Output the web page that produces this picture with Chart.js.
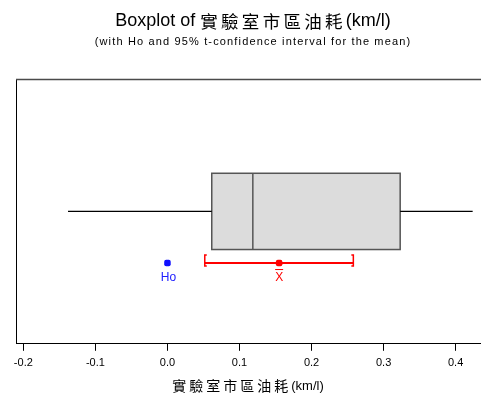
<!DOCTYPE html>
<html>
<head>
<meta charset="utf-8">
<script src="https://cdn.jsdelivr.net/npm/chart.js@4.4.1/dist/chart.umd.min.js"></script>
<style>
  html, body { margin: 0; padding: 0; background: #fff; overflow: hidden; }
  #wrap { width: 481px; height: 396px; overflow: hidden; }
</style>
</head>
<body>
<div id="wrap"><canvas id="c" width="500" height="396"></canvas></div>
<script>
// Five-number summary: min, Q1, median, Q3, max
const fiveNumber = [-0.138, 0.0615, 0.1185, 0.323, 0.4236];
// 95% t-confidence interval for the mean: lower, mean, upper
const meanInterval = [0.0518, 0.155, 0.258];
// Hypothesized mean
const hypothesized = [0];
// Axis tick values and labels
const tickValues = [-0.2, -0.1, 0, 0.1, 0.2, 0.3, 0.4];
const tickLabels = ['-0.2', '-0.1', '0.0', '0.1', '0.2', '0.3', '0.4'];

const titleParts = ['Boxplot of ', '實驗室市區油耗', '(km/l)'];
const subtitleText = '(with Ho and 95% t-confidence interval for the mean)';
const axisTitleParts = ['實驗室市區油耗', '(km/l)'];

const FONT = '"Liberation Sans", Arial, "Noto Sans CJK TC", sans-serif';
const CJK = '"Noto Sans CJK TC", "Liberation Sans", sans-serif';

// vertical layout inside the plot frame (axis units 0..1)
const ROW_BOX = 0.5, BOX_HALF = 0.144, ROW_CI = 0.305;

const [wLo, q1, med, q3, wHi] = fiveNumber;
const [ciLo, mean, ciHi] = meanInterval;

// draw a row of text segments, each with its own font and letter spacing, centred on cx
function drawSegments(ctx, segs, cx, cy) {
  const widths = segs.map(s => {
    ctx.font = s.font;
    ctx.letterSpacing = s.spacing + 'px';
    return ctx.measureText(s.text).width;
  });
  const total = widths.reduce((a, b) => a + b, 0);
  let x = cx - total / 2;
  ctx.textAlign = 'left';
  ctx.textBaseline = 'middle';
  segs.forEach((s, i) => {
    ctx.font = s.font;
    ctx.letterSpacing = s.spacing + 'px';
    ctx.fillText(s.text, x, cy);
    x += widths[i];
  });
  ctx.letterSpacing = '0px';
}

const boxPlugin = {
  id: 'boxDraw',
  beforeDatasetsDraw(chart) {
    const { ctx, chartArea: a, scales: { x, y } } = chart;
    ctx.save();
    // plot frame (right edge falls outside the visible area)
    ctx.strokeStyle = '#000';
    ctx.lineWidth = 1;
    ctx.beginPath();
    ctx.moveTo(a.left + 0.5, a.top);
    ctx.lineTo(a.left + 0.5, a.bottom);
    ctx.stroke();
    ctx.strokeStyle = '#4a4a4a';
    ctx.lineWidth = 1.5;
    ctx.beginPath();
    ctx.moveTo(a.left, a.top + 0.5);
    ctx.lineTo(a.right, a.top + 0.5);
    ctx.stroke();

    // box
    const xl = x.getPixelForValue(q1), xr = x.getPixelForValue(q3);
    const yt = y.getPixelForValue(ROW_BOX + BOX_HALF), yb = y.getPixelForValue(ROW_BOX - BOX_HALF);
    ctx.fillStyle = '#dcdcdc';
    ctx.fillRect(xl, yt, xr - xl, yb - yt);
    ctx.strokeStyle = '#555';
    ctx.lineWidth = 1.5;
    ctx.strokeRect(xl, yt, xr - xl, yb - yt);
    const xm = x.getPixelForValue(med);
    ctx.beginPath();
    ctx.moveTo(xm, yt);
    ctx.lineTo(xm, yb);
    ctx.stroke();
    ctx.restore();
  },
  afterDatasetsDraw(chart) {
    const { ctx, scales: { x, y } } = chart;
    ctx.save();
    // interval end brackets
    const yc = y.getPixelForValue(ROW_CI);
    ctx.strokeStyle = '#ff0000';
    ctx.lineWidth = 1.5;
    [[ciLo, 1], [ciHi, -1]].forEach(([v, dir]) => {
      const px = x.getPixelForValue(v);
      ctx.beginPath();
      ctx.moveTo(px + dir * 2, yc - 8);
      ctx.lineTo(px, yc - 8);
      ctx.lineTo(px, yc + 3);
      ctx.lineTo(px + dir * 2, yc + 3);
      ctx.stroke();
    });
    // point labels
    ctx.font = '12px ' + FONT;
    ctx.textAlign = 'center';
    ctx.textBaseline = 'middle';
    ctx.fillStyle = '#2020ff';
    ctx.fillText('Ho', x.getPixelForValue(hypothesized[0]) + 1, yc + 15);
    ctx.fillStyle = '#ff0000';
    const mx = x.getPixelForValue(mean);
    ctx.fillText('X', mx, yc + 15);
    ctx.fillRect(mx - 4, yc + 6, 8, 1);

    // titles
    const cx = 253;
    ctx.fillStyle = '#000';
    drawSegments(ctx, [
      { text: titleParts[0], font: '18px ' + FONT, spacing: 0 },
      { text: titleParts[1], font: '17.5px ' + CJK, spacing: 3.3 },
      { text: titleParts[2], font: '18px ' + FONT, spacing: 0 }
    ], cx, 21.5);
    drawSegments(ctx, [
      { text: subtitleText, font: '11px ' + FONT, spacing: 1.15 }
    ], cx, 42);
    // axis title
    drawSegments(ctx, [
      { text: axisTitleParts[0], font: '14px ' + CJK, spacing: 3 },
      { text: axisTitleParts[1], font: '13px ' + FONT, spacing: 0 }
    ], 248, 386);
    ctx.restore();
  }
};

new Chart(document.getElementById('c'), {
  type: 'scatter',
  data: {
    datasets: [
      { data: [{ x: wLo, y: ROW_BOX }, { x: q1, y: ROW_BOX }], showLine: true,
        borderColor: '#000', borderWidth: 1.3, pointRadius: 0 },
      { data: [{ x: q3, y: ROW_BOX }, { x: wHi, y: ROW_BOX }], showLine: true,
        borderColor: '#000', borderWidth: 1.3, pointRadius: 0 },
      { data: [{ x: ciLo, y: ROW_CI }, { x: ciHi, y: ROW_CI }], showLine: true,
        borderColor: '#ff0000', borderWidth: 2, pointRadius: 0 },
      { data: [{ x: mean, y: ROW_CI }], pointStyle: 'rectRounded', pointRadius: 3.8,
        backgroundColor: '#ff0000', borderColor: '#ff0000', borderWidth: 0 },
      { data: hypothesized.map(v => ({ x: v, y: ROW_CI })), pointStyle: 'rectRounded', pointRadius: 3.8,
        backgroundColor: '#1010ff', borderColor: '#1010ff', borderWidth: 0 }
    ]
  },
  options: {
    responsive: false,
    animation: false,
    events: [],
    layout: { padding: { left: 16, right: 0, top: 79, bottom: 20 } },
    plugins: {
      legend: { display: false },
      tooltip: { enabled: false },
      title: { display: false },
      subtitle: { display: false }
    },
    scales: {
      x: {
        type: 'linear',
        min: -0.2102,
        max: 0.456,
        afterBuildTicks(scale) { scale.ticks = tickValues.map(v => ({ value: v })); },
        ticks: {
          color: '#000', padding: 6,
          font: { family: FONT, size: 11 },
          maxRotation: 0,
          callback: (v) => { const i = tickValues.findIndex(t => Math.abs(t - v) < 1e-9); return i >= 0 ? tickLabels[i] : ''; }
        },
        grid: { drawOnChartArea: false, drawTicks: true, tickLength: 7, color: '#000' },
        border: { display: true, color: '#000', width: 1 },
        title: { display: false }
      },
      y: { type: 'linear', min: 0, max: 1, display: false }
    }
  },
  plugins: [boxPlugin]
});
</script>
</body>
</html>
